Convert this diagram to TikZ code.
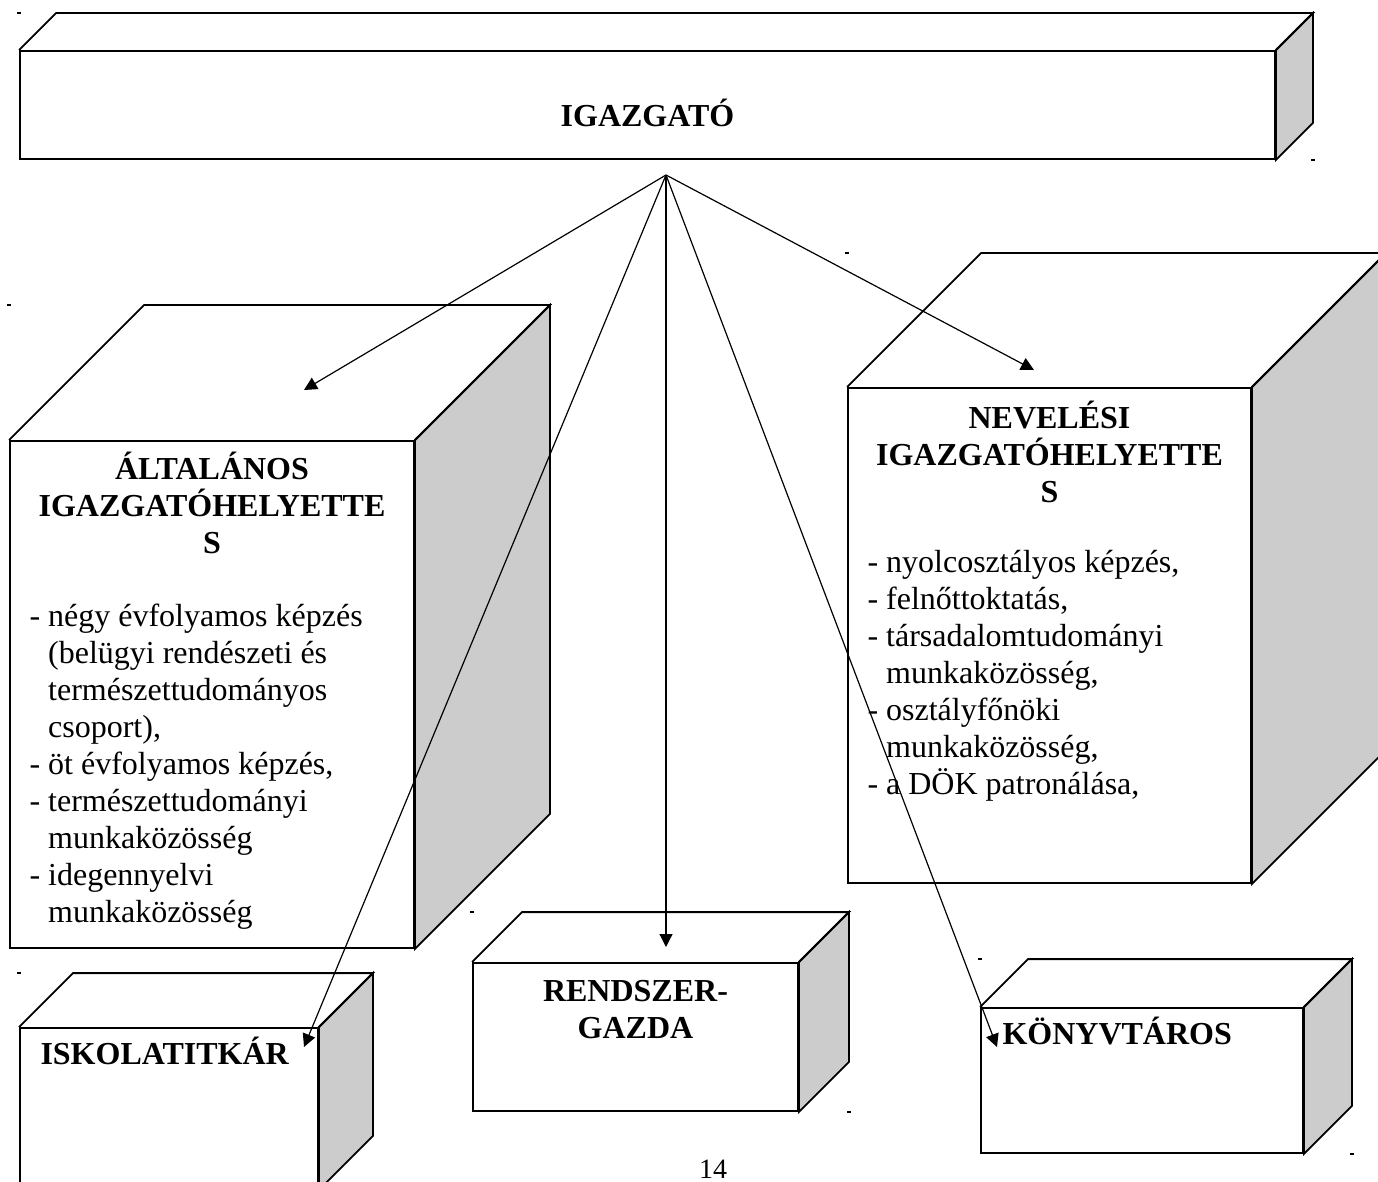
\documentclass[tikz,border=0pt]{standalone}
\usepackage{fontspec}
\setmainfont{Liberation Serif}
\usetikzlibrary{positioning,arrows.meta}
\definecolor{sidegray}{RGB}{204,204,204}
\newcommand\orgfont{\fontsize{16pt}{18.5pt}\selectfont}

\begin{document}
\begin{tikzpicture}[x=0.5pt, y=-0.5pt, >={Triangle[length=6.5pt,width=6.5pt]},
    face/.style={rectangle, draw, line width=0.9pt, inner sep=0pt, fill=white},
    side/.style={draw, line width=0.9pt, fill=sidegray},
    rim/.style={draw, line width=0.9pt},
    head/.style={font=\orgfont\bfseries, align=center, inner sep=0pt},
    duties/.style={font=\orgfont, align=left, inner sep=0pt},
    link/.style={->, line width=0.6pt}]
 \useasboundingbox (0,0) rectangle (1378,1182);

 \node[face, minimum width=627.5pt, minimum height=54pt] (igazgato) at (647.5,105) {};
 \node[face, minimum width=202pt, minimum height=253.5pt] (altalanos) at (212,694.5) {};
 \node[face, minimum width=201.5pt, minimum height=247.5pt] (neveles) at (1049.5,635.5) {};
 \node[face, minimum width=162.5pt, minimum height=74pt] (rendszer) at (635.5,1037) {};
 \node[face, minimum width=149pt, minimum height=80.5pt] (iskola) at (169,1108.5) {};
 \node[face, minimum width=161pt, minimum height=72.5pt] (konyvtar) at (1142,1080.5) {};

 \foreach \org/\deep in {igazgato/18.5pt, altalanos/67.5pt, neveles/67pt,
                         rendszer/25pt, iskola/27pt, konyvtar/24pt} {
   \draw[side] (\org.north east) -- ++(\deep,\deep)
     -- ([shift={(\deep,\deep)}]\org.south east) -- (\org.south east) -- cycle;
   \draw[rim] (\org.north west) -- ++(\deep,\deep)
     -- ([shift={(\deep,\deep)}]\org.north east) -- (\org.north east);
   \fill ([yshift=\deep]\org.north west) ++(-1pt,-0.6pt) rectangle ++(2pt,1.2pt);
 }
 \foreach \org/\deep in {igazgato/18.5pt, rendszer/25pt, konyvtar/24pt}
   \fill ([xshift=\deep]\org.south east) ++(-1pt,-0.6pt) rectangle ++(2pt,1.2pt);

 \node[head, below=23pt of igazgato.north] (igazgato head) {\rule{0pt}{15pt}IGAZGATÓ};

 \node[head, below=4.5pt of altalanos.north] (altalanos head)
   {\rule{0pt}{15pt}ÁLTALÁNOS\\IGAZGATÓHELYETTE\\S};
 \node[duties, below right=78pt and 10pt of altalanos.north west] (altalanos duties)
   {\rule{0pt}{15pt}- négy évfolyamos képzés\\
    \phantom{- }(belügyi rendészeti és\\
    \phantom{- }természettudományos\\
    \phantom{- }csoport),\\
    - öt évfolyamos képzés,\\
    - természettudományi\\
    \phantom{- }munkaközösség\\
    - idegennyelvi\\
    \phantom{- }munkaközösség};

 \node[head, below=5.5pt of neveles.north] (neveles head)
   {\rule{0pt}{15pt}NEVELÉSI\\IGAZGATÓHELYETTE\\S};
 \node[duties, below right=77.5pt and 10pt of neveles.north west] (neveles duties)
   {\rule{0pt}{15pt}- nyolcosztályos képzés,\\
    - felnőttoktatás,\\
    - társadalomtudományi\\
    \phantom{- }munkaközösség,\\
    - osztályfőnöki\\
    \phantom{- }munkaközösség,\\
    - a DÖK patronálása,};

 \node[head, below=4.5pt of rendszer.north] (rendszer head) {\rule{0pt}{15pt}RENDSZER-\\GAZDA};
 \node[head, below right=3.5pt and 10.5pt of iskola.north west] (iskola head) {\rule{0pt}{15pt}ISKOLATITKÁR};
 \node[head, below right=3.5pt and 11pt of konyvtar.north west] (konyvtar head) {\rule{0pt}{15pt}KÖNYVTÁROS};

 \node[font=\fontsize{14pt}{16pt}\selectfont, inner sep=0pt, anchor=base] (page number) at (713,1178) {14};

 \coordinate (apex) at (666,175);
 \coordinate (altalanos-tip) at (304,390);
 \coordinate (neveles-tip) at (1034,370);
 \coordinate (rendszer-tip) at (666,947);
 \coordinate (iskola-tip) at (304,1047);
 \coordinate (konyvtar-tip) at (997,1047);
 \foreach \tgt in {altalanos, neveles, rendszer, iskola, konyvtar}
   \draw[link] (apex) -- (\tgt-tip);
\end{tikzpicture}
\end{document}
